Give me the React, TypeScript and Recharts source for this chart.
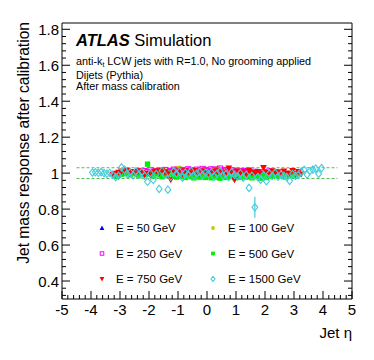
import React from 'react';
import { ComposedChart, Scatter, XAxis, YAxis, ReferenceLine, ErrorBar } from 'recharts';

const _ = null;

// eta bin centres
const etaBins = [
  -3.95, -3.85, -3.75, -3.65, -3.55, -3.45, -3.35, -3.25, -3.15, -3.05,
  -2.95, -2.85, -2.75, -2.65, -2.55, -2.45, -2.35, -2.25, -2.15, -2.05,
  -1.95, -1.85, -1.75, -1.65, -1.55, -1.45, -1.35, -1.25, -1.15, -1.05,
  -0.95, -0.85, -0.75, -0.65, -0.55, -0.45, -0.35, -0.25, -0.15, -0.05,
  0.05, 0.15, 0.25, 0.35, 0.45, 0.55, 0.65, 0.75, 0.85, 0.95,
  1.05, 1.15, 1.25, 1.35, 1.45, 1.55, 1.65, 1.75, 1.85, 1.95,
  2.05, 2.15, 2.25, 2.35, 2.45, 2.55, 2.65, 2.75, 2.85, 2.95,
  3.05, 3.15, 3.25, 3.35, 3.45, 3.55, 3.65, 3.75, 3.85, 3.95,
];

const e50 = [
  _, _, _, _, _, _, _, _, _, _,
  _, _, _, _, _, _, _, _, _, _,
  _, _, _, _, _, _, _, _, _, _,
  _, _, 1.008, 1.002, 1.012, 1.004, 1.010, 0.998, 1.006, 1.012,
  1.002, 1.008, 1.000, 1.010, 1.004, 1.006, 0.998, 1.004, _, _,
  _, _, _, _, _, _, _, _, _, _,
  _, _, _, _, _, _, _, _, _, _,
  _, _, _, _, _, _, _, _, _, _,
];

const e100 = [
  _, _, _, _, _, _, _, _, _, _,
  _, _, _, _, _, _, _, _, _, _,
  _, _, _, _, _, 1.006, 1.014, 1.010, 1.018, 1.024,
  1.028, 1.016, 1.012, 1.020, 1.008, 1.014, 1.018, 1.010, 1.016, 1.022,
  1.012, 1.018, 1.008, 1.026, 1.014, 1.020, 1.010, 1.016, 1.008, 1.012,
  1.004, 1.010, 0.998, 1.006, 1.002, _, _, _, _, _,
  _, _, _, _, _, _, _, _, _, _,
  _, _, _, _, _, _, _, _, _, _,
];

const e250 = [
  _, _, _, _, _, _, _, _, _, _,
  _, _, _, _, _, 1.004, 1.010, 0.998, 1.012, 1.006,
  1.016, 1.008, 1.002, 1.014, 1.010, 1.018, 1.006, 1.012, 1.020, 1.014,
  1.008, 1.018, 1.012, 1.022, 1.016, 1.010, 1.020, 1.014, 1.024, 1.018,
  1.012, 1.022, 1.016, 1.020, 1.026, 1.014, 1.018, 1.010, 1.016, 1.008,
  1.014, 1.006, 1.012, 1.002, 1.010, 0.998, 1.008, 1.004, 0.996, 1.006,
  1.000, 1.010, 0.998, 1.004, 0.994, _, _, _, _, _,
  _, _, _, _, _, _, _, _, _, _,
];

const e500 = [
  _, _, _, _, _, _, _, _, 0.982, 0.988,
  0.994, 0.998, 1.002, 0.990, 1.006, 0.998, 0.986, 1.004, 0.992, 1.050,
  0.996, 0.984, 1.002, 0.990, 0.980, 0.996, 0.988, 1.000, 0.984, 0.978,
  0.990, 0.982, 0.976, 0.988, 0.980, 0.974, 0.986, 0.978, 0.984, 0.976,
  0.982, 0.974, 0.986, 0.978, 0.972, 0.984, 0.976, 0.980, 0.988, 0.975,
  0.982, 0.976, 0.990, 0.978, 0.985, 0.974, 0.988, 0.980, 0.972, 0.984,
  0.976, 0.990, 0.982, 1.004, 0.986, 0.994, 0.980, 0.998, 0.988, 0.992,
  0.984, 0.996, _, _, _, _, _, _, _, _,
];

const e750 = [
  _, _, _, _, _, _, _, 0.992, 0.998, 1.004,
  1.010, 1.006, 1.015, 1.002, 1.008, 0.996, 1.012, 1.004, 0.990, 0.998,
  0.988, 1.006, 1.012, 1.000, 1.015, 1.005, 0.996, 0.962, 1.008, 1.002,
  1.010, 0.996, 1.012, 1.004, 0.998, 1.014, 1.006, 0.994, 1.010, 1.002,
  0.996, 1.008, 1.000, 1.012, 0.998, 1.004, 0.992, 1.028, 1.006, 0.962,
  1.010, 0.998, 1.008, 0.994, 1.016, 1.002, 0.996, 1.008, 1.000, 1.030,
  1.004, 0.994, 1.012, 0.998, 1.006, 0.992, 1.010, 1.000, 0.996, 1.014,
  0.998, 1.008, 0.994, _, _, _, _, _, _, _,
];

const e1500 = [
  1.003, 1.005, 1.002, 1.006, 1.000, 0.997, 1.001, 0.990, 0.978, 0.985,
  1.032, 1.020, 0.995, 1.004, 0.988, 1.010, 0.992, 1.006, 0.985, 0.952,
  1.000, 0.962, 0.995, 0.912, 1.012, 0.990, 0.908, 0.980, 1.010, 0.997,
  1.008, 0.975, 1.003, 0.992, 1.012, 0.985, 0.998, 1.006, 0.990, 1.002,
  0.995, 1.004, 0.980, 0.998, 1.010, 0.985, 0.995, 0.978, 1.005, 0.990,
  0.982, 1.000, 0.975, 0.990, 0.918, 0.985, 0.810, 0.978, 0.962, 0.990,
  0.955, 0.998, 0.985, 1.002, 0.980, 0.992, 0.985, 0.978, 0.957, 0.995,
  0.985, 0.990, 1.008, 1.018, 0.992, 1.012, 1.020, 1.025, 0.996, 1.028,
];

const e1500Err = [
  0, 0, 0, 0, 0, 0, 0, 0, 0, 0,
  0, 0, 0, 0, 0, 0, 0, 0, 0, 0,
  0, 0, 0, 0, 0, 0, 0, 0, 0, 0,
  0, 0, 0, 0, 0, 0, 0, 0, 0, 0,
  0, 0, 0, 0, 0, 0, 0, 0, 0, 0,
  0, 0, 0, 0, 0, 0, 0.058, 0, 0, 0,
  0, 0, 0, 0, 0, 0, 0, 0, 0, 0,
  0, 0, 0, 0, 0, 0, 0, 0, 0, 0,
];

const seriesNames = ['E = 50 GeV', 'E = 100 GeV', 'E = 250 GeV', 'E = 500 GeV', 'E = 750 GeV', 'E = 1500 GeV'];
const seriesValues = [e50, e100, e250, e500, e750, e1500];
const seriesColors = ['#0000ff', '#c8c800', '#ff00ff', '#00ee00', '#ff0000', '#44ccdd'];
const seriesMarkers = ['triUp', 'circle', 'openSquare', 'square', 'triDown', 'openDiamond'];

const bandLevels = [0.97, 1.03];
const bandRange = [-4.5, 4.5];

const xMajorTicks = [-5, -4, -3, -2, -1, 0, 1, 2, 3, 4, 5];
const xTickLabels = ['-5', '-4', '-3', '-2', '-1', '0', '1', '2', '3', '4', '5'];
const yMajorTicks = [0.4, 0.6, 0.8, 1, 1.2, 1.4, 1.6, 1.8];
const yTickLabels = ['0.4', '0.6', '0.8', '1', '1.2', '1.4', '1.6', '1.8'];

const xDomain: [number, number] = [-5, 5];
const yDomain: [number, number] = [0.3, 1.835];

const FONT = "'Liberation Sans', Arial, Helvetica, sans-serif";

// minor ticks: 5 subdivisions of each major interval
const xTicks: number[] = [];
for (let i = 0; i < xMajorTicks.length - 1; i++) {
  const a = xMajorTicks[i];
  const b = xMajorTicks[i + 1];
  for (let j = 0; j < 5; j++) xTicks.push(Math.round((a + ((b - a) * j) / 5) * 1000) / 1000);
}
xTicks.push(xMajorTicks[xMajorTicks.length - 1]);

const yTicks: number[] = [];
{
  const step = (yMajorTicks[1] - yMajorTicks[0]) / 5;
  for (let v = yMajorTicks[0] - 2 * step; v <= yMajorTicks[yMajorTicks.length - 1] + 1e-9; v += step) {
    const r = Math.round(v * 1000) / 1000;
    if (r >= yDomain[0] && r <= yDomain[1]) yTicks.push(r);
  }
}

const majorIndex = (arr: number[], v: number) => arr.findIndex((m) => Math.abs(m - v) < 1e-6);

const BottomTick = (props: any) => {
  const { x, y, payload } = props;
  const mi = majorIndex(xMajorTicks, payload.value);
  const len = mi >= 0 ? 8 : 4;
  return (
    <g>
      <line x1={x} x2={x} y1={y} y2={y - len} stroke="#000" strokeWidth={1} />
      {mi >= 0 && (
        <text x={x} y={y + 16} textAnchor="middle" fontSize={15} fontFamily={FONT} fill="#000">
          {xTickLabels[mi]}
        </text>
      )}
    </g>
  );
};

const TopTick = (props: any) => {
  const { x, y, payload } = props;
  const mi = majorIndex(xMajorTicks, payload.value);
  const len = mi >= 0 ? 8 : 4;
  return <line x1={x} x2={x} y1={y} y2={y + len} stroke="#000" strokeWidth={1} />;
};

const LeftTick = (props: any) => {
  const { x, y, payload } = props;
  const mi = majorIndex(yMajorTicks, payload.value);
  const len = mi >= 0 ? 8 : 4;
  return (
    <g>
      <line x1={x} x2={x + len} y1={y} y2={y} stroke="#000" strokeWidth={1} />
      {mi >= 0 && (
        <text x={x - 3} y={y + 5.5} textAnchor="end" fontSize={15} fontFamily={FONT} fill="#000">
          {yTickLabels[mi]}
        </text>
      )}
    </g>
  );
};

const RightTick = (props: any) => {
  const { x, y, payload } = props;
  const mi = majorIndex(yMajorTicks, payload.value);
  const len = mi >= 0 ? 8 : 4;
  return <line x1={x} x2={x - len} y1={y} y2={y} stroke="#000" strokeWidth={1} />;
};

function Marker({ kind, cx, cy, color, s = 1 }: { kind: string; cx: number; cy: number; color: string; s?: number }) {
  if (cx == null || cy == null || isNaN(cx) || isNaN(cy)) return null;
  switch (kind) {
    case 'triUp': {
      const a = 3.4 * s;
      return <polygon points={`${cx},${cy - a} ${cx - a},${cy + a * 0.8} ${cx + a},${cy + a * 0.8}`} fill={color} />;
    }
    case 'triDown': {
      const a = 3.4 * s;
      return <polygon points={`${cx},${cy + a} ${cx - a},${cy - a * 0.8} ${cx + a},${cy - a * 0.8}`} fill={color} />;
    }
    case 'circle':
      return <circle cx={cx} cy={cy} r={2.7 * s} fill={color} />;
    case 'openSquare': {
      const a = 2.5 * s;
      return <rect x={cx - a} y={cy - a} width={2 * a} height={2 * a} fill="none" stroke={color} strokeWidth={1} />;
    }
    case 'square': {
      const a = 2.7 * s;
      return <rect x={cx - a} y={cy - a} width={2 * a} height={2 * a} fill={color} />;
    }
    case 'openDiamond': {
      const w = 2.9 * s;
      const h = 3.7 * s;
      return (
        <polygon
          points={`${cx},${cy - h} ${cx + w},${cy} ${cx},${cy + h} ${cx - w},${cy}`}
          fill="none"
          stroke={color}
          strokeWidth={1.1}
        />
      );
    }
    default:
      return null;
  }
}

const buildData = (vals: (number | null)[], errs?: number[]) =>
  etaBins
    .map((eta, i) => ({ eta, r: vals[i], err: errs ? errs[i] : 0 }))
    .filter((d) => d.r != null);

export default function App() {
  return (
    <div style={{ position: 'absolute', left: 0, top: 0, width: 374, height: 360, background: '#fff' }}>
      <ComposedChart width={374} height={360} margin={{ top: 0, right: 0, bottom: 0, left: 0 }}>
        <XAxis
          xAxisId="b"
          dataKey="eta"
          type="number"
          domain={xDomain}
          ticks={xTicks}
          interval={0}
          tickSize={0}
          tickMargin={0}
          tick={<BottomTick />}
          tickLine={false}
          axisLine={{ stroke: '#000', strokeWidth: 1 }}
          height={61}
          allowDataOverflow
        />
        <XAxis
          xAxisId="t"
          orientation="top"
          type="number"
          domain={xDomain}
          ticks={xTicks}
          interval={0}
          tickSize={0}
          tickMargin={0}
          tick={<TopTick />}
          tickLine={false}
          axisLine={{ stroke: '#000', strokeWidth: 1 }}
          height={23}
          allowDataOverflow
        />
        <YAxis
          yAxisId="l"
          dataKey="r"
          type="number"
          domain={yDomain}
          ticks={yTicks}
          interval={0}
          tickSize={0}
          tickMargin={0}
          tick={<LeftTick />}
          tickLine={false}
          axisLine={{ stroke: '#000', strokeWidth: 1 }}
          width={62}
          allowDataOverflow
        />
        <YAxis
          yAxisId="r"
          orientation="right"
          type="number"
          domain={yDomain}
          ticks={yTicks}
          interval={0}
          tickSize={0}
          tickMargin={0}
          tick={<RightTick />}
          tickLine={false}
          axisLine={{ stroke: '#000', strokeWidth: 1 }}
          width={22}
          allowDataOverflow
        />
        {bandLevels.map((lv) => (
          <ReferenceLine
            key={lv}
            xAxisId="b"
            yAxisId="l"
            segment={[
              { x: bandRange[0], y: lv },
              { x: bandRange[1], y: lv },
            ]}
            stroke="#55bb55"
            strokeDasharray="3 2"
            strokeWidth={1}
          />
        ))}
        {seriesValues.map((vals, si) => (
          <Scatter
            key={seriesNames[si]}
            name={seriesNames[si]}
            xAxisId="b"
            yAxisId="l"
            dataKey="r"
            data={buildData(vals, si === 5 ? e1500Err : undefined)}
            isAnimationActive={false}
            shape={(p: any) => <Marker kind={seriesMarkers[si]} cx={p.cx} cy={p.cy} color={seriesColors[si]} />}
          >
            {si === 5 && (
              <ErrorBar dataKey="err" direction="y" width={0} stroke={seriesColors[si]} strokeWidth={1.2} isAnimationActive={false} />
            )}
          </Scatter>
        ))}
      </ComposedChart>
      <svg
        width={374}
        height={360}
        style={{ position: 'absolute', left: 0, top: 0, pointerEvents: 'none' }}
        fontFamily={FONT}
      >
        <text x={29} y={22} transform="rotate(-90 29 22)" textAnchor="end" fontSize={15.6} fill="#000">
          Jet mass response after calibration
        </text>
        <text x={352} y={338} textAnchor="end" fontSize={15} fill="#000">
          Jet η
        </text>
        <text x={76} y={46} fontSize={16.5} fill="#000">
          <tspan fontWeight="bold" fontStyle="italic">ATLAS</tspan>
          <tspan> Simulation</tspan>
        </text>
        <text x={76} y={65} fontSize={10.8} fill="#000">
          anti-k<tspan fontSize={7} dy={1.5}>t</tspan>
          <tspan dy={-1.5}> LCW jets with R=1.0, No grooming applied</tspan>
        </text>
        <text x={76} y={78.5} fontSize={10.8} fill="#000">
          Dijets (Pythia)
        </text>
        <text x={76} y={90} fontSize={10.8} fill="#000">
          After mass calibration
        </text>
        {seriesNames.map((name, i) => {
          const col = i % 2;
          const row = Math.floor(i / 2);
          const mx = col === 0 ? 102 : 213;
          const tx = col === 0 ? 116 : 228;
          const cy = 228 + row * 25.5;
          return (
            <g key={name}>
              <Marker kind={seriesMarkers[i]} cx={mx} cy={cy} color={seriesColors[i]} s={0.7} />
              <text x={tx} y={cy + 4} fontSize={11.5} fill="#000">
                {name}
              </text>
            </g>
          );
        })}
      </svg>
    </div>
  );
}
